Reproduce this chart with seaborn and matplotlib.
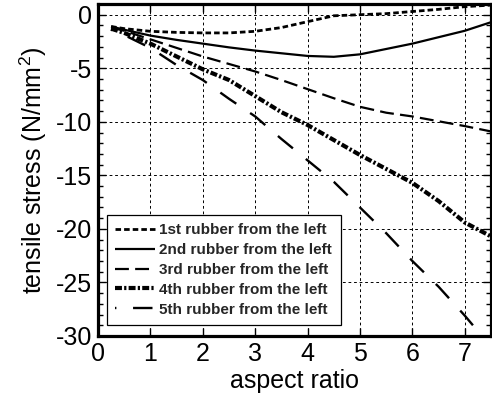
import matplotlib
matplotlib.use("Agg")
import matplotlib.pyplot as plt
import seaborn as sns
import numpy as np

# ---- data ----
aspect_ratio = [0.25, 0.5, 1.0, 1.5, 2.0, 2.5, 3.0, 3.5, 4.0, 4.5, 5.0, 5.5, 6.0, 6.5, 7.0, 7.5]
rubber1 = [-1.1, -1.3, -1.55, -1.65, -1.7, -1.7, -1.55, -1.2, -0.65, -0.1, 0.0, 0.1, 0.3, 0.5, 0.75, 0.9]
rubber2 = [-1.1, -1.4, -1.95, -2.35, -2.7, -3.05, -3.35, -3.6, -3.85, -3.93, -3.7, -3.2, -2.7, -2.1, -1.5, -0.7]
rubber3 = [-1.2, -1.5, -2.3, -3.1, -3.9, -4.6, -5.3, -6.1, -6.95, -7.8, -8.6, -9.15, -9.5, -9.95, -10.4, -10.9]
rubber4 = [-1.3, -1.7, -2.7, -3.9, -5.1, -6.1, -7.6, -9.1, -10.3, -11.7, -13.1, -14.4, -15.7, -17.4, -19.4, -20.7]
rubber5 = [-1.4, -1.9, -3.1, -4.7, -6.1, -7.85, -9.5, -11.6, -13.6, -15.6, -18.0, -20.4, -23.0, -25.4, -28.1, -31.0]
labels = ["1st rubber from the left", "2nd rubber from the left", "3rd rubber from the left",
          "4th rubber from the left", "5th rubber from the left"]
x_ticks = [0, 1, 2, 3, 4, 5, 6, 7]
y_ticks = [0, -5, -10, -15, -20, -25, -30]

sns.set_theme(style="white")
plt.rcParams['font.family'] = ['Liberation Sans', 'DejaVu Sans']
plt.rcParams['mathtext.fontset'] = 'custom'
plt.rcParams['mathtext.rm'] = 'Liberation Sans'
plt.rcParams['mathtext.default'] = 'regular'
plt.rcParams['lines.scale_dashes'] = False

fig = plt.figure(figsize=(4.92, 4.01), dpi=100)
ax = fig.add_axes([98 / 492, 1 - 336 / 401, (491 - 98) / 492, (336 - 4) / 401])

series = [rubber1, rubber2, rubber3, rubber4, rubber5]
widths = [2.0, 1.6, 1.6, 3.0, 1.7]
styles = [(0, (4.0, 2.2)), '-', (0, (10.0, 4.5)), (0, (5.0, 1.6, 1.6, 1.6)), (13.0, (14.0, 12.0))]

for vals, lab, lw, ls in zip(series, labels, widths, styles):
    sns.lineplot(x=aspect_ratio, y=vals, ax=ax, color='black', lw=lw, label=lab)
    line = ax.lines[-1]
    line.set_linestyle(ls)
    line.set_solid_capstyle('butt')
    line.set_dash_capstyle('butt')

ax.set_xlim(0, 7.5)
ax.set_ylim(-30, 1.0)
ax.set_xticks(x_ticks)
ax.set_yticks(y_ticks)
ax.set_yticks(np.arange(-30, 1, 1), minor=True)
ax.set_xticklabels([str(t) for t in x_ticks], fontsize=18)
ax.set_yticklabels([str(t) for t in y_ticks], fontsize=18)
ax.tick_params(which='both', direction='in', top=True, right=True, bottom=True, left=True,
               color='black', width=1.0)
ax.tick_params(which='major', length=6, labelcolor='black')
ax.tick_params(axis='x', which='major', pad=4.5)
ax.tick_params(axis='y', which='major', pad=4.0)
ax.tick_params(which='minor', length=3.5)

ax.grid(True, which='major', color='black', linestyle=(0, (2, 2)), linewidth=0.7)
ax.set_axisbelow(True)
for sp in ax.spines.values():
    sp.set_color('black')
    sp.set_linewidth(2.3)
    sp.set_visible(True)

ax.set_xlabel("aspect ratio", fontsize=18, color='black', labelpad=2)
ax.set_ylabel("tensile stress (N/mm$^2$)", fontsize=18, color='black', labelpad=5)

leg = ax.legend(loc='lower left', bbox_to_anchor=(0.022, 0.033), borderaxespad=0,
                prop={'weight': 'bold', 'size': 11}, handlelength=2.6, handletextpad=0.3,
                labelspacing=0.38, borderpad=0.55, frameon=True, fancybox=False,
                edgecolor='black', framealpha=1.0)
leg.get_frame().set_linewidth(0.9)

fig.savefig("out.png", dpi=100)
